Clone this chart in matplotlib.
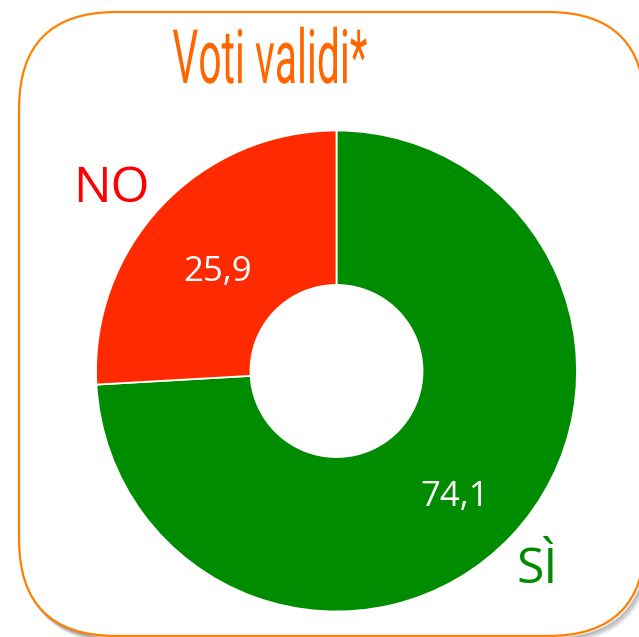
import matplotlib
matplotlib.use("Agg")
import matplotlib.pyplot as plt
import matplotlib.patheffects as pe
from matplotlib.patches import FancyBboxPatch
from matplotlib.transforms import Affine2D

# data
labels = ["SÌ", "NO"]
values = [74.1, 25.9]
value_text = ["74,1", "25,9"]
colors = ["#008C00", "#FF2A00"]
label_colors = ["#008A00", "#FF0000"]
title = "Voti validi*"

# label anchors (x centre, baseline) in pixel coords, y measured from top
value_pos = [(455, 506), (218, 281)]
name_pos = [(537, 583), (111, 202)]


class Squeeze(pe.AbstractPathEffect):
    """narrow the glyphs horizontally to a given pixel width (condensed look)"""

    def __init__(self, width):
        super().__init__()
        self.width = width

    def draw_path(self, renderer, gc, tpath, affine, rgbFace=None):
        ext = affine.transform_path(tpath).get_extents()
        cx = (ext.x0 + ext.x1) / 2
        sx = self.width / max(ext.width, 1)
        a = affine + Affine2D().translate(-cx, 0).scale(sx, 1).translate(cx, 0)
        renderer.draw_path(gc, tpath, a, rgbFace)


def plot_donut():
    W, H = 639, 637
    fig = plt.figure(figsize=(W / 100, H / 100), dpi=100)
    ax = fig.add_axes([0, 0, 1, 1])

    # card with soft shadow
    x0, y0, x1, y1 = 19, 1, 645, 625
    for i, a in enumerate([0.08, 0.12, 0.18]):
        off = 5 - i * 1.3
        sh = FancyBboxPatch((x0 + off, y0 - off), x1 - x0, y1 - y0,
                            boxstyle="round,pad=0,rounding_size=97",
                            fc="none", ec=(0, 0, 0, a), lw=3.5 - i * 0.9, zorder=0)
        ax.add_patch(sh)
    card = FancyBboxPatch((x0, y0), x1 - x0, y1 - y0,
                          boxstyle="round,pad=0,rounding_size=97",
                          fc="white", ec="#FF8000", lw=1.6, zorder=1)
    ax.add_patch(card)

    cx, cy, R = 336.5, H - 371, 240.5
    wedges, _ = ax.pie(values, colors=colors, startangle=90, counterclock=False,
                       center=(cx, cy), radius=R, frame=True,
                       wedgeprops=dict(width=R - 86, edgecolor="white", linewidth=1.3))
    for w in wedges:
        w.set_zorder(2)

    for vt, nm, lc, (vx, vy), (nx, ny) in zip(value_text, labels, label_colors,
                                               value_pos, name_pos):
        ax.text(vx, H - vy, vt, color="white", fontsize=25, ha="center",
                va="baseline", family=["Open Sans", "DejaVu Sans"], zorder=3)
        ax.text(nx, H - ny, nm, color=lc, fontsize=36, ha="center",
                va="baseline", family=["Open Sans", "DejaVu Sans"], zorder=3)

    t = ax.text(270, H - 83, title, color="#FF6600", fontsize=54, ha="center",
                va="baseline", family=["Roboto", "DejaVu Sans"], weight="normal",
                zorder=3)
    t.set_path_effects([Squeeze(194)])

    ax.set_xlim(0, W)
    ax.set_ylim(0, H)
    ax.set_aspect("auto")
    ax.axis("off")
    fig.savefig("out.png", dpi=100)


if __name__ == "__main__":
    plot_donut()
